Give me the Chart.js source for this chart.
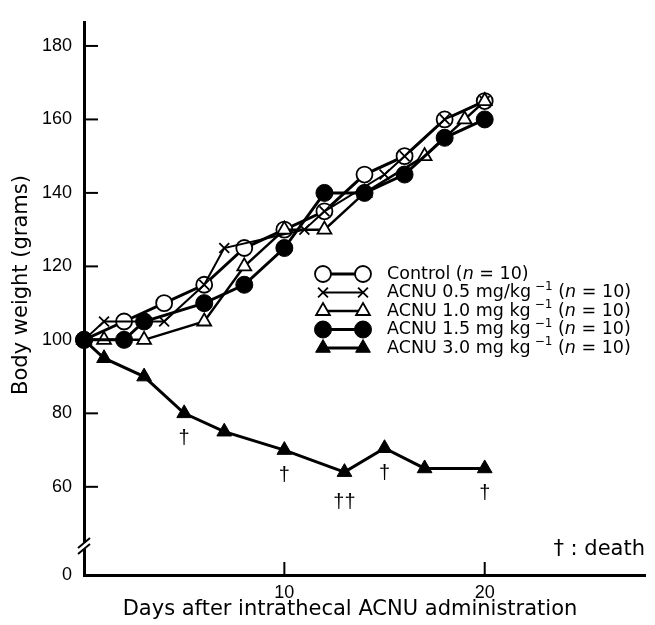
<!DOCTYPE html>
<html>
<head>
<meta charset="utf-8">
<script src="https://cdn.jsdelivr.net/npm/chart.js@4"></script>
<style>
  html, body { margin: 0; padding: 0; background: #fff; }
  canvas { display: block; }
</style>
</head>
<body>
<canvas id="chart" width="655" height="625"></canvas>
<script>
const controlDays = [0, 2, 4, 6, 8, 10, 12, 14, 16, 18, 20];
const controlWeight = [100, 105, 110, 115, 125, 130, 135, 145, 150, 160, 165];

const acnu05Days = [0, 1, 4, 6, 7, 11, 12, 15, 16, 18, 20];
const acnu05Weight = [100, 105, 105, 115, 125, 130, 135, 145, 150, 160, 165];

const acnu10Days = [0, 1, 3, 6, 8, 10, 12, 14, 17, 19, 20];
const acnu10Weight = [100, 100, 100, 105, 120, 130, 130, 140, 150, 160, 165];

const acnu15Days = [0, 2, 3, 6, 8, 10, 12, 14, 16, 18, 20];
const acnu15Weight = [100, 100, 105, 110, 115, 125, 140, 140, 145, 155, 160];

const acnu30Days = [0, 1, 3, 5, 7, 10, 13, 15, 17, 20];
const acnu30Weight = [100, 95, 90, 80, 75, 70, 64, 70.5, 65, 65];

const deathDays = [5, 10, 13, 15, 20];
const deathMarks = ["†", "†", "††", "†", "†"];

const yTicks = [60, 80, 100, 120, 140, 160, 180];
const xTicks = [10, 20];
const yBreak = 36; // value sitting on the x axis, shown as "0"

const legendDose = [null, "0.5 mg/kg", "1.0 mg kg", "1.5 mg kg", "3.0 mg kg"];

const FONT = "'Liberation Sans', Arial, sans-serif";
const WIDE = "'DejaVu Sans', sans-serif";

function pts(days, w) {
    return days.map((d, i) => ({ x: d, y: w[i] }));
}

const datasets = [
    { data: pts(controlDays, controlWeight), pointStyle: "circle", pointRadius: 8,
      backgroundColor: "#fff", borderWidth: 3, pointBorderWidth: 1.8, order: 5 },
    { data: pts(acnu05Days, acnu05Weight), pointStyle: "crossRot", pointRadius: 7,
      backgroundColor: "#fff", borderWidth: 2, pointBorderWidth: 1.8, order: 4 },
    { data: pts(acnu10Days, acnu10Weight), pointStyle: "triangle", pointRadius: 8,
      backgroundColor: "#fff", borderWidth: 2.5, pointBorderWidth: 1.8, order: 3 },
    { data: pts(acnu15Days, acnu15Weight), pointStyle: "circle", pointRadius: 8.5,
      backgroundColor: "#000", borderWidth: 3, pointBorderWidth: 1, order: 2 },
    { data: pts(acnu30Days, acnu30Weight), pointStyle: "triangle", pointRadius: 8.5,
      backgroundColor: "#000", borderWidth: 3, pointBorderWidth: 1, order: 1 }
];
datasets.forEach(ds => {
    ds.borderColor = "#000";
    ds.pointBackgroundColor = ds.backgroundColor;
    ds.pointBorderColor = "#000";
    ds.tension = 0;
    ds.clip = false;
});

const decor = {
    id: "decor",
    afterDraw(chart) {
        const ctx = chart.ctx;
        const xs = chart.scales.x, ys = chart.scales.y;
        const area = chart.chartArea;
        ctx.save();
        ctx.strokeStyle = "#000";
        ctx.fillStyle = "#000";

        // inward tick marks
        ctx.lineWidth = 2;
        yTicks.forEach(v => {
            const y = ys.getPixelForValue(v);
            ctx.beginPath(); ctx.moveTo(area.left, y); ctx.lineTo(area.left + 14, y); ctx.stroke();
        });
        xTicks.forEach(v => {
            const x = xs.getPixelForValue(v);
            ctx.beginPath(); ctx.moveTo(x, area.bottom); ctx.lineTo(x, area.bottom - 13); ctx.stroke();
        });

        // axis break
        const by = area.bottom - 29;
        ctx.fillStyle = "#fff";
        ctx.fillRect(area.left - 3, by - 3, 6, 6);
        ctx.lineWidth = 2;
        [-3, 3].forEach(o => {
            ctx.beginPath();
            ctx.moveTo(area.left - 6, by + o + 5);
            ctx.lineTo(area.left + 6, by + o - 5);
            ctx.stroke();
        });
        ctx.fillStyle = "#000";

        // deaths under the 3.0 mg series
        const meta = chart.getDatasetMeta(4);
        ctx.font = "20px " + FONT;
        ctx.textAlign = "center";
        ctx.textBaseline = "middle";
        deathDays.forEach((d, i) => {
            const p = meta.data[acnu30Days.indexOf(d)];
            const off = deathMarks[i].length > 1 ? 30 : 25;
            ctx.fillText(deathMarks[i], p.x, p.y + off);
        });

        ctx.font = "21px " + WIDE;
        ctx.textAlign = "right";
        ctx.fillText("† : death", area.right, area.bottom - 25);

        // legend
        const lx1 = 323, lx2 = 363, tx = 387;
        datasets.forEach((ds, i) => {
            const y = 274 + i * 18.5;
            ctx.lineWidth = ds.borderWidth;
            ctx.beginPath(); ctx.moveTo(lx1, y); ctx.lineTo(lx2, y); ctx.stroke();
            [lx1, lx2].forEach(x => {
                ctx.fillStyle = ds.backgroundColor;
                ctx.strokeStyle = "#000";
                ctx.lineWidth = ds.pointBorderWidth;
                Chart.helpers.drawPoint(ctx, { pointStyle: ds.pointStyle, radius: ds.pointRadius, borderWidth: ds.pointBorderWidth, rotation: 0 }, x, y);
            });
            ctx.fillStyle = "#000";
            ctx.textAlign = "left";
            ctx.textBaseline = "middle";
            let x = tx;
            const put = (s, font, dy) => {
                ctx.font = font;
                ctx.fillText(s, x, y + (dy || 0));
                x += ctx.measureText(s).width;
            };
            const norm = "17.5px " + WIDE;
            if (i === 0) {
                put("Control (", norm);
            } else {
                put("ACNU " + legendDose[i], norm);
                x += 4;
                put("\u22121", "12px " + WIDE, -6);
                put(" (", norm);
            }
            put("n", "oblique 17.5px " + WIDE);
            put(" = 10)", norm);
        });

        // axis titles
        ctx.font = "21px " + WIDE;
        ctx.textAlign = "center";
        ctx.textBaseline = "alphabetic";
        ctx.fillText("Days after intrathecal ACNU administration", 350, 615);
        ctx.translate(27, 285);
        ctx.rotate(-Math.PI / 2);
        ctx.fillText("Body weight (grams)", 0, 0);
        ctx.restore();
    }
};

new Chart(document.getElementById("chart"), {
    type: "line",
    data: { datasets: datasets },
    options: {
        responsive: false,
        animation: false,
        layout: { padding: { top: 14, right: 10, left: 0, bottom: 0 } },
        plugins: { legend: { display: false }, tooltip: { enabled: false } },
        scales: {
            x: {
                type: "linear", min: 0, max: 28,
                afterBuildTicks: s => { s.ticks = xTicks.map(v => ({ value: v })); },
                afterFit: s => { s.height = 50; },
                grid: { drawOnChartArea: false, drawTicks: false },
                border: { width: 3, color: "#000" },
                ticks: { padding: 7, color: "#000", font: { family: FONT, size: 18 } }
            },
            y: {
                type: "linear", min: yBreak, max: 186.3,
                afterBuildTicks: s => { s.ticks = [yBreak].concat(yTicks).map(v => ({ value: v })); },
                afterFit: s => { s.width = 84; },
                grid: { drawOnChartArea: false, drawTicks: false },
                border: { width: 3, color: "#000" },
                ticks: {
                    padding: 12, color: "#000", font: { family: FONT, size: 18 },
                    callback: v => v === yBreak ? "0" : v
                }
            }
        }
    },
    plugins: [decor]
});
</script>
</body>
</html>
